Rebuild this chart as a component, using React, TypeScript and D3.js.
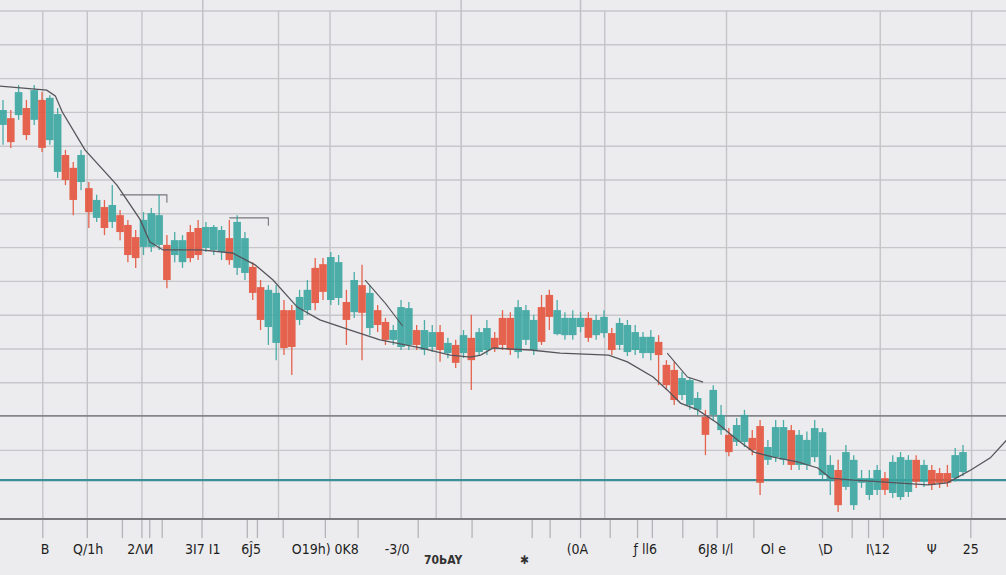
import React from "react";
import * as d3 from "d3";

// ---- data ----
const opens = [116.3,118.3,119.2,121.3,117.8,123.7,111.8,102.4,107.4,103.6,99.4,97.6,88.8,92.0,87.6,89.6,86.7,83.1,80.2,80.2,80.8,80.8,77.8,75.7,84.6,85.8,79.9,79.3,78.7,82.8,74.0,72.5,74.3,68.3,56.5,51.8,61.5,61.5,58.6,61.5,74.0,75.1,64.5,65.1,63.9,60.9,68.9,56.2,61.5,58.0,52.7,50.6,51.2,55.6,49.7,50.6,55.0,48.8,51.2,48.8,53.3,49.1,49.7,53.3,59.2,59.2,49.1,52.7,49.7,62.4,66.0,54.4,54.1,54.1,56.5,59.2,54.1,54.7,54.7,51.2,49.1,49.7,48.8,48.8,52.1,45.3,43.8,36.4,33.4,32.0,29.9,30.5,26.0,24.6,22.5,22.5,23.7,27.2,17.2,18.0,17.2,26.0,15.7,15.7,18.0,12.7,11.2,14.2,9.2,3.8,10.4,6.8,8.3,11.8,7.4,6.2,7.7,17.2,10.7,14.2,13.3,13.3,11.8,13.6];
const closes = [120.7,111.2,126.0,113.3,126.6,109.5,124.3,119.5,100.0,94.1,107.4,90.5,94.1,85.8,92.6,84.6,77.8,76.9,88.2,90.2,89.6,70.4,82.2,82.2,76.9,77.8,86.1,86.1,85.2,76.3,87.6,82.8,66.6,58.6,67.5,66.6,50.3,50.6,65.4,67.5,63.6,66.9,77.2,75.7,58.6,70.4,60.7,66.6,57.1,52.7,55.6,62.4,62.1,51.2,55.6,55.0,49.7,51.8,45.9,54.1,46.7,55.0,56.2,50.3,51.2,49.7,62.4,61.5,58.6,52.1,59.5,61.5,59.2,59.2,59.2,53.3,58.6,59.5,49.7,57.7,57.1,55.0,53.6,53.6,48.2,39.3,34.9,41.4,40.8,35.5,24.6,37.9,30.5,19.5,27.5,30.5,20.1,10.4,21.0,26.9,26.9,15.7,24.6,23.1,26.6,25.4,15.7,3.8,19.5,17.2,11.8,11.8,14.2,8.3,16.6,18.0,17.2,10.7,15.7,9.8,10.4,10.4,18.6,19.5];
const highs = [123.7,120.7,128.1,123.7,128.1,126.0,125.1,121.3,108.9,105.3,108.9,99.4,95.6,94.1,98.5,91.1,88.2,85.2,90.5,91.7,95.6,83.7,84.6,83.7,86.7,88.2,87.6,86.7,86.4,88.2,89.6,84.6,75.7,70.4,68.9,68.9,64.5,63.0,67.5,70.4,76.9,76.9,78.7,77.8,67.5,72.8,74.9,68.9,63.0,59.2,57.1,64.5,63.9,57.1,58.6,57.1,57.1,53.3,52.7,55.6,60.1,56.2,58.6,55.0,61.5,60.9,64.5,63.0,60.1,66.0,67.5,64.5,60.9,61.5,60.9,60.9,60.1,61.5,56.2,59.2,58.6,57.1,55.0,55.6,54.1,46.7,46.2,43.2,41.4,37.3,32.0,39.3,33.4,26.6,29.6,32.0,26.0,29.0,23.1,29.0,29.0,27.5,26.0,25.6,29.0,26.6,18.6,17.2,21.6,18.6,14.2,14.2,15.7,13.6,18.6,19.5,18.6,18.6,17.2,15.7,14.8,15.7,20.7,21.6];
const lows = [110.4,109.5,117.8,111.8,116.3,108.3,110.4,100.6,98.5,89.6,97.0,85.8,87.6,83.7,85.8,82.2,75.7,74.0,77.8,78.7,79.3,68.0,75.7,74.0,75.7,76.3,78.7,77.8,76.3,74.9,71.9,70.4,64.5,55.6,51.2,46.7,48.2,42.3,57.1,60.1,61.5,64.5,63.0,63.0,51.2,59.2,46.7,54.1,55.0,51.2,51.2,49.7,49.7,49.7,48.2,49.1,46.2,47.3,44.4,47.3,37.9,47.9,48.2,49.1,49.7,48.2,47.3,51.2,48.2,51.2,55.6,54.1,52.7,52.7,55.0,52.1,52.7,53.3,48.2,49.7,47.9,48.2,47.3,46.7,39.3,37.9,33.4,34.9,32.0,30.5,18.6,29.0,24.6,18.3,21.3,21.0,18.6,6.8,15.7,16.6,15.7,14.2,14.2,14.2,16.6,11.2,6.8,1.8,8.3,2.4,8.9,5.3,6.8,6.8,5.9,5.3,6.2,8.9,9.2,8.3,8.9,9.2,10.7,12.4];

// moving-average line (index position, value)
const maIdx = [-0.4,5.6,6.7,7.6,10.5,14.6,17.6,18.8,20.5,25.3,29.4,32.3,34.6,37.7,40.6,44.5,48.3,53.5,57.3,59.9,61.2,62.8,67.6,71.4,77.6,80.0,83.3,85.1,86.8,89.0,91.5,94.1,96.2,98.7,101.8,104.4,106.0,109.0,118.5,121.0,122.1,124.0,126.5,128.6];
const maVal = [127.8,126.6,124.9,120.1,108.9,98.5,88.2,81.7,79.3,79.3,78.4,74.9,70.4,62.4,58.6,55.6,52.7,50.3,48.2,47.6,48.2,50.3,49.7,48.8,48.2,46.2,41.7,37.9,34.0,32.0,28.1,23.1,19.5,18.0,16.6,14.8,11.8,11.2,9.8,10.4,11.8,14.2,17.8,23.1];

// shorter secondary trend segments
const seg1Idx = [46.4, 49.0, 51.2];
const seg1Val = [70.4, 63.5, 56.8];
const seg2Idx = [85.1, 87.7, 89.7];
const seg2Val = [48.8, 41.7, 40.2];

// bracket level markers
const bracketFrom = [15, 29];
const bracketTo = [21, 34];
const bracketVal = [95.6, 88.8];

// grid
const gridVals = [20, 40, 50, 60, 70, 80, 90, 100, 110, 120, 130, 140, 150];
const resistanceVal = 30.2;
const supportVal = 11.2;
const gridIdx = [5.1, 10.8, 17.8, 35.3, 41.9, 55.5, 77.1, 92.7, 112.4, 124.1];
const majorGridIdx = [25.6, 58.7, 74.0];

// axis ticks and labels
const tickIdx = [5.1, 10.8, 15.3, 17.8, 18.8, 20.4, 25.5, 31.3, 32.6, 35.9, 41.3, 45.5, 53.2, 60.1, 67.8, 70.1, 74.0, 77.8, 81.3, 83.2, 87.1, 91.5, 96.2, 105.0, 108.8, 110.9, 112.8, 124.0];
const labels = ["B", "Q/1h", "2ΛИ", "3I7 I1", "6Ĵ5", "O19h) 0K8", "-3/0", "(0A", "ƒ ll6", "6J8 I/l", "Ol e", "\\D", "I\\12", "Ψ", "25"];
const labelIdx = [5.4, 10.9, 17.6, 25.6, 31.8, 41.3, 50.5, 73.6, 82.3, 91.3, 98.7, 105.4, 112.1, 119.0, 124.0];
const lowLabels = ["70ЬAY", "✱"];
const lowLabelIdx = [56.4, 66.8];

const W = 1006;
const H = 575;

export default function App() {
  const x = d3.scaleLinear().domain([0, 123]).range([3, 963]);
  const y = d3.scaleLinear().domain([0, 150]).range([518, 11]);
  const teal = "#3aa6a1";
  const red = "#e5553d";
  const bw = 7.6;

  const maLine = d3
    .line<number>()
    .x((_, k) => x(maIdx[k]))
    .y((d) => y(d))(maVal) as string;
  const s1 = d3
    .line<number>()
    .x((_, k) => x(seg1Idx[k]))
    .y((d) => y(d))(seg1Val) as string;
  const s2 = d3
    .line<number>()
    .x((_, k) => x(seg2Idx[k]))
    .y((d) => y(d))(seg2Val) as string;

  return (
    <svg
      width={W}
      height={H}
      style={{ position: "absolute", left: 0, top: 0, display: "block" }}
      fontFamily="'DejaVu Sans Condensed', 'Liberation Sans', sans-serif"
    >
      <rect x={0} y={0} width={W} height={H} fill="#ececee" />
      {gridVals.map((v) => (
        <line key={"h" + v} x1={0} x2={W} y1={y(v)} y2={y(v)} stroke="#c7c7cb" strokeWidth={1.4} />
      ))}
      {gridIdx.map((g) => (
        <line key={"v" + g} x1={x(g)} x2={x(g)} y1={y(150)} y2={y(0)} stroke="#c4c4c8" strokeWidth={1.4} />
      ))}
      {majorGridIdx.map((g) => (
        <line key={"m" + g} x1={x(g)} x2={x(g)} y1={0} y2={y(0)} stroke="#c1c1c5" strokeWidth={1.5} />
      ))}
      <line x1={0} x2={W} y1={y(resistanceVal)} y2={y(resistanceVal)} stroke="#85858a" strokeWidth={1.9} />
      <line x1={0} x2={W} y1={y(supportVal)} y2={y(supportVal)} stroke="#3b8f98" strokeWidth={2.2} />
      {bracketVal.map((v, k) => (
        <path
          key={"b" + k}
          d={`M${x(bracketFrom[k])},${y(v)}H${x(bracketTo[k])}V${y(v) + 8}`}
          fill="none"
          stroke="#77777c"
          strokeWidth={1.1}
        />
      ))}
      {opens.map((o, i) => {
        const c = closes[i];
        const col = c >= o ? teal : red;
        const top = y(Math.max(o, c));
        const h = Math.max(1.5, Math.abs(y(o) - y(c)));
        return (
          <g key={"c" + i} opacity={0.9}>
            <line x1={x(i)} x2={x(i)} y1={y(highs[i])} y2={y(lows[i])} stroke={col} strokeWidth={1.3} />
            <rect x={x(i) - bw / 2} y={top} width={bw} height={h} fill={col} />
          </g>
        );
      })}
      <path d={maLine} fill="none" stroke="#55555b" strokeWidth={1.3} />
      <path d={s1} fill="none" stroke="#55555b" strokeWidth={1.1} />
      <path d={s2} fill="none" stroke="#55555b" strokeWidth={1.1} />
      <line x1={0} x2={W} y1={y(0) + 1} y2={y(0) + 1} stroke="#7a7a7e" strokeWidth={2} />
      {tickIdx.map((t) => (
        <line key={"t" + t} x1={x(t)} x2={x(t)} y1={y(0) + 2} y2={y(0) + 20} stroke="#b4b4b8" strokeWidth={1.3} />
      ))}
      {labels.map((l, k) => (
        <text key={"l" + k} x={x(labelIdx[k])} y={y(0) + 36} textAnchor="middle" fontSize={14} fill="#1e1e1e">
          {l}
        </text>
      ))}
      {lowLabels.map((l, k) => (
        <text key={"ll" + k} x={x(lowLabelIdx[k])} y={y(0) + 46} textAnchor="middle" fontSize={12} fontWeight="bold" fill="#333">
          {l}
        </text>
      ))}
    </svg>
  );
}
